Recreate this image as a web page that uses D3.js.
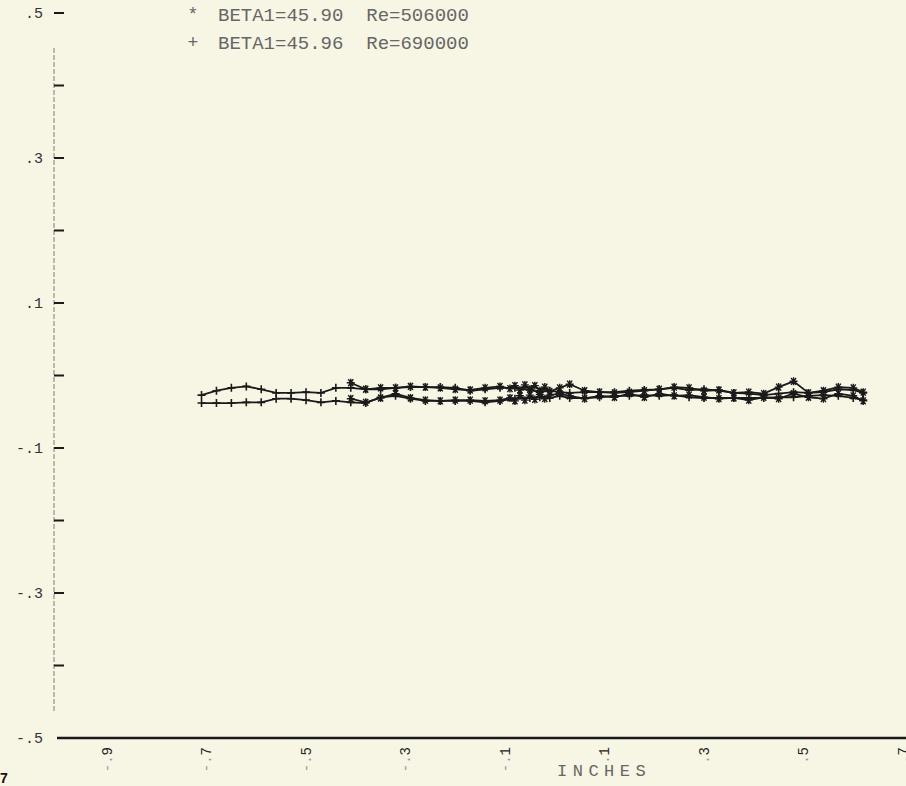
<!DOCTYPE html>
<html>
<head>
<meta charset="utf-8">
<script src="https://cdn.jsdelivr.net/npm/d3@7"></script>
<style>
  html, body { margin: 0; padding: 0; background: #f7f6e4; }
  svg { display: block; }
</style>
</head>
<body>
<svg id="chart" width="906" height="786"></svg>
<script>
// ---- data ----
const yTickValues = [0.5, 0.3, 0.1, -0.1, -0.3, -0.5];
const yTickLabels = [".5", ".3", ".1", "-.1", "-.3", "-.5"];
const yMinorTicks = [0.4, 0.2, 0.0, -0.2, -0.4];
const xTickValues = [-0.9, -0.7, -0.5, -0.3, -0.1, 0.1, 0.3, 0.5, 0.7];
const xTickSigns = ["-.", "-.", "-.", "-.", "-.", ".", ".", ".", "."];
const xTickDigits = ["9", "7", "5", "3", "1", "1", "3", "5", "7"];
const xTitle = "INCHES";
const seriesNames = ["BETA1=45.90  Re=506000", "BETA1=45.96  Re=690000"];
const seriesSymbols = ["*", "+"];

// stations (inches) for series "+" (BETA1=45.96)
const stationsB = [-0.71,-0.68,-0.65,-0.62,-0.59,-0.56,-0.53,-0.50,-0.47,-0.44,-0.41,-0.38,-0.35,-0.32,-0.29,-0.26,-0.23,-0.20,-0.17,-0.14,-0.11,-0.08,-0.05,-0.03,-0.01,0.01,0.03,0.06,0.09,0.12,0.15,0.18,0.21,0.24,0.27,0.30,0.33,0.36,0.39,0.42,0.45,0.48,0.51,0.54,0.57,0.60,0.62];
const upperB = [-0.027,-0.021,-0.017,-0.015,-0.019,-0.024,-0.024,-0.023,-0.024,-0.017,-0.017,-0.019,-0.019,-0.017,-0.016,-0.016,-0.016,-0.017,-0.021,-0.019,-0.017,-0.017,-0.020,-0.023,-0.021,-0.023,-0.024,-0.023,-0.023,-0.023,-0.021,-0.020,-0.019,-0.017,-0.020,-0.019,-0.021,-0.024,-0.025,-0.027,-0.025,-0.023,-0.024,-0.023,-0.019,-0.020,-0.024];
const lowerB = [-0.038,-0.038,-0.038,-0.037,-0.037,-0.032,-0.032,-0.034,-0.037,-0.035,-0.037,-0.038,-0.030,-0.028,-0.032,-0.035,-0.035,-0.035,-0.035,-0.037,-0.035,-0.032,-0.031,-0.030,-0.031,-0.028,-0.031,-0.031,-0.030,-0.028,-0.028,-0.027,-0.028,-0.027,-0.030,-0.031,-0.031,-0.031,-0.031,-0.031,-0.030,-0.030,-0.028,-0.027,-0.028,-0.031,-0.034];

// stations (inches) for series "*" (BETA1=45.90)
const stationsA = [-0.41,-0.38,-0.35,-0.32,-0.29,-0.26,-0.23,-0.20,-0.17,-0.14,-0.11,-0.09,-0.08,-0.07,-0.06,-0.05,-0.04,-0.03,-0.02,-0.01,0.01,0.03,0.06,0.09,0.12,0.15,0.18,0.21,0.24,0.27,0.30,0.33,0.36,0.39,0.42,0.45,0.48,0.51,0.54,0.57,0.60,0.62];
const upperA = [-0.010,-0.019,-0.017,-0.017,-0.015,-0.016,-0.017,-0.019,-0.020,-0.017,-0.015,-0.018,-0.014,-0.020,-0.013,-0.019,-0.014,-0.021,-0.016,-0.022,-0.017,-0.012,-0.021,-0.023,-0.024,-0.023,-0.021,-0.019,-0.016,-0.017,-0.021,-0.020,-0.024,-0.023,-0.025,-0.016,-0.008,-0.024,-0.021,-0.016,-0.017,-0.023];
const lowerA = [-0.032,-0.037,-0.031,-0.025,-0.031,-0.034,-0.035,-0.034,-0.034,-0.035,-0.034,-0.031,-0.035,-0.028,-0.034,-0.027,-0.033,-0.026,-0.032,-0.027,-0.025,-0.028,-0.032,-0.028,-0.030,-0.025,-0.030,-0.025,-0.028,-0.027,-0.030,-0.032,-0.031,-0.034,-0.030,-0.032,-0.025,-0.030,-0.032,-0.025,-0.028,-0.035];

// ---- drawing ----
const svg = d3.select("#chart");
const x = d3.scaleLinear().domain([-1.0, 0.7]).range([57.25, 903]);
const y = d3.scaleLinear().domain([-0.5, 0.5]).range([738, 13]);

const ink = "#1a1a1a";
const faint = "#666";
const fontMono = "'Liberation Mono', 'DejaVu Sans Mono', monospace";

// y axis: dashed thin spine
svg.append("line")
  .attr("x1", 54).attr("x2", 54)
  .attr("y1", 48).attr("y2", 712)
  .attr("stroke", "#7a7a70").attr("stroke-width", 1)
  .attr("stroke-dasharray", "5,2");

// y ticks (major + minor)
svg.append("g").selectAll("line").data(yTickValues.slice(0, 5)).join("line")
  .attr("x1", 54).attr("x2", 64)
  .attr("y1", d => y(d)).attr("y2", d => y(d))
  .attr("stroke", ink).attr("stroke-width", 2);
svg.append("g").selectAll("line").data(yMinorTicks).join("line")
  .attr("x1", 54).attr("x2", 64)
  .attr("y1", d => y(d)).attr("y2", d => y(d))
  .attr("stroke", ink).attr("stroke-width", 2);

// y labels
svg.append("g").selectAll("text").data(yTickValues).join("text")
  .attr("x", 43).attr("y", d => y(d)).attr("dy", "0.35em")
  .attr("text-anchor", "end")
  .attr("font-family", fontMono).attr("font-size", 15)
  .attr("fill", "#333")
  .text((d, i) => yTickLabels[i]);

// x axis line at y = -.5
svg.append("line")
  .attr("x1", 57).attr("x2", 906)
  .attr("y1", y(-0.5)).attr("y2", y(-0.5))
  .attr("stroke", ink).attr("stroke-width", 2.5);

// x tick labels, rotated (sign part faint, digit dark)
const xl = svg.append("g").selectAll("text").data(xTickValues).join("text")
  .attr("transform", d => `translate(${x(d)},747) rotate(-90)`)
  .attr("text-anchor", "end").attr("dy", "0.35em")
  .attr("font-family", fontMono).attr("font-size", 14);
xl.append("tspan").attr("fill", "#999").text((d, i) => xTickSigns[i]);
xl.append("tspan").attr("fill", "#222").text((d, i) => xTickDigits[i]);

// x title
svg.append("text")
  .attr("x", 557).attr("y", 776)
  .attr("font-family", fontMono).attr("font-size", 17)
  .attr("letter-spacing", 5.5)
  .attr("fill", faint)
  .text(xTitle);

// stray page mark
svg.append("text")
  .attr("x", 0).attr("y", 783)
  .attr("font-family", "'Liberation Sans', Arial, sans-serif")
  .attr("font-weight", "bold").attr("font-size", 14)
  .attr("fill", "#111")
  .text("7");

// legend
const legendRows = [14, 42];
svg.append("g").selectAll("text").data(seriesSymbols).join("text")
  .attr("x", 193).attr("y", (d, i) => legendRows[i]).attr("dy", "0.35em")
  .attr("text-anchor", "middle")
  .attr("font-family", fontMono).attr("font-size", 18).attr("fill", faint)
  .text(d => d);
svg.append("g").selectAll("text").data(seriesNames).join("text")
  .attr("x", 218).attr("y", (d, i) => legendRows[i]).attr("dy", "0.35em")
  .attr("font-family", fontMono).attr("font-size", 19).attr("fill", faint)
  .style("white-space", "pre")
  .text(d => d);

// series loops: upper forward then lower back
function loop(st, up, lo) {
  const pts = st.map((s, i) => [s, up[i]]);
  for (let i = st.length - 1; i >= 0; i--) pts.push([st[i], lo[i]]);
  return pts;
}
const line = d3.line().x(d => x(d[0])).y(d => y(d[1]));

const ptsB = loop(stationsB, upperB, lowerB);
const ptsA = loop(stationsA, upperA, lowerA);

svg.append("path").attr("d", line(ptsB))
  .attr("fill", "none").attr("stroke", ink).attr("stroke-width", 1.8);
svg.append("path").attr("d", line(ptsA))
  .attr("fill", "none").attr("stroke", ink).attr("stroke-width", 1.8);

// markers
const plusPath = "M-4,0H4M0,-4V4";
const starPath = "M-4,0H4M-2.5,-3.5L2.5,3.5M-2.5,3.5L2.5,-3.5M0,-4V4";
svg.append("g").selectAll("path").data(ptsB).join("path")
  .attr("transform", d => `translate(${x(d[0])},${y(d[1])})`)
  .attr("d", plusPath).attr("stroke", ink).attr("stroke-width", 1.6).attr("fill", "none");
svg.append("g").selectAll("path").data(ptsA).join("path")
  .attr("transform", d => `translate(${x(d[0])},${y(d[1])})`)
  .attr("d", starPath).attr("stroke", ink).attr("stroke-width", 1.4).attr("fill", "none");
</script>
</body>
</html>
